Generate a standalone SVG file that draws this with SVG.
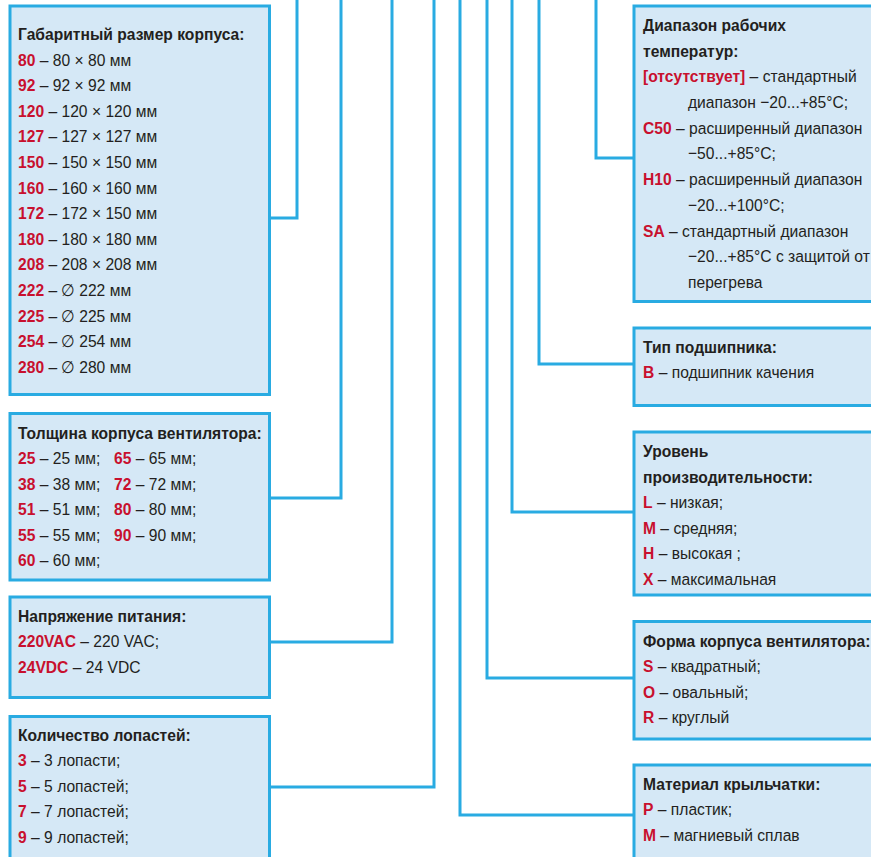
<svg xmlns="http://www.w3.org/2000/svg" width="871" height="857" viewBox="0 0 871 857">
<style>
.box{fill:#d5e8f6;stroke:#29abe2;stroke-width:3}
.cn{fill:none;stroke:#29abe2;stroke-width:3}
text{font-family:"Liberation Sans",Arial,sans-serif;font-size:17px;fill:#231f20}
.h{font-weight:bold}
.r{font-weight:bold;fill:#c8102e}
</style>
<rect width="871" height="857" fill="#fff"/>
<g id="connectors">
<polyline class="cn" points="269.5,218 297,218 297,-2"/>
<polyline class="cn" points="269.5,498 341,498 341,-2"/>
<polyline class="cn" points="269.5,642 392,642 392,-2"/>
<polyline class="cn" points="269.5,787 434,787 434,-2"/>
<polyline class="cn" points="634,815 460,815 460,-2"/>
<polyline class="cn" points="634,678 487,678 487,-2"/>
<polyline class="cn" points="634,512 512,512 512,-2"/>
<polyline class="cn" points="634,364 539,364 539,-2"/>
<polyline class="cn" points="634,158 596,158 596,-2"/>
</g>
<g id="size">
<rect class="box" x="10" y="6" width="259.5" height="388.5"/>
<g transform="matrix(0.92,0,0,1,18,0)">
<text x="0" y="40" class="h">Габаритный размер корпуса:</text>
<text x="0" y="65.6"><tspan class="r">80</tspan> – 80 × 80 мм</text>
<text x="0" y="91.2"><tspan class="r">92</tspan> – 92 × 92 мм</text>
<text x="0" y="116.8"><tspan class="r">120</tspan> – 120 × 120 мм</text>
<text x="0" y="142.4"><tspan class="r">127</tspan> – 127 × 127 мм</text>
<text x="0" y="168"><tspan class="r">150</tspan> – 150 × 150 мм</text>
<text x="0" y="193.6"><tspan class="r">160</tspan> – 160 × 160 мм</text>
<text x="0" y="219.2"><tspan class="r">172</tspan> – 172 × 150 мм</text>
<text x="0" y="244.8"><tspan class="r">180</tspan> – 180 × 180 мм</text>
<text x="0" y="270.4"><tspan class="r">208</tspan> – 208 × 208 мм</text>
<text x="0" y="296"><tspan class="r">222</tspan> – ∅ 222 мм</text>
<text x="0" y="321.6"><tspan class="r">225</tspan> – ∅ 225 мм</text>
<text x="0" y="347.2"><tspan class="r">254</tspan> – ∅ 254 мм</text>
<text x="0" y="372.8"><tspan class="r">280</tspan> – ∅ 280 мм</text>
</g>
</g>
<g id="thickness">
<rect class="box" x="10" y="413.5" width="259.5" height="166.5"/>
<g transform="matrix(0.92,0,0,1,18,0)">
<text x="0" y="439" class="h">Толщина корпуса вентилятора:</text>
<text x="0" y="464.5"><tspan class="r">25</tspan> – 25 мм;</text>
<text x="0" y="490"><tspan class="r">38</tspan> – 38 мм;</text>
<text x="0" y="515.5"><tspan class="r">51</tspan> – 51 мм;</text>
<text x="0" y="541"><tspan class="r">55</tspan> – 55 мм;</text>
<text x="0" y="566.5"><tspan class="r">60</tspan> – 60 мм;</text>
<text x="104.3" y="464.5"><tspan class="r">65</tspan> – 65 мм;</text>
<text x="104.3" y="490"><tspan class="r">72</tspan> – 72 мм;</text>
<text x="104.3" y="515.5"><tspan class="r">80</tspan> – 80 мм;</text>
<text x="104.3" y="541"><tspan class="r">90</tspan> – 90 мм;</text>
</g>
</g>
<g id="voltage">
<rect class="box" x="10" y="597" width="259.5" height="100.5"/>
<g transform="matrix(0.92,0,0,1,18,0)">
<text x="0" y="622" class="h">Напряжение питания:</text>
<text x="0" y="647.5"><tspan class="r">220VAC</tspan> – 220 VAC;</text>
<text x="0" y="673"><tspan class="r">24VDC</tspan> – 24 VDC</text>
</g>
</g>
<g id="blades">
<rect class="box" x="10" y="716.5" width="259.5" height="160"/>
<g transform="matrix(0.92,0,0,1,18,0)">
<text x="0" y="741" class="h">Количество лопастей:</text>
<text x="0" y="766.5"><tspan class="r">3</tspan> – 3 лопасти;</text>
<text x="0" y="792"><tspan class="r">5</tspan> – 5 лопастей;</text>
<text x="0" y="817.5"><tspan class="r">7</tspan> – 7 лопастей;</text>
<text x="0" y="843"><tspan class="r">9</tspan> – 9 лопастей;</text>
</g>
</g>
<g id="temperature">
<rect class="box" x="634" y="6" width="260" height="295.5"/>
<g transform="matrix(0.92,0,0,1,643,0)">
<text x="0" y="31" class="h">Диапазон рабочих</text>
<text x="0" y="56.7" class="h">температур:</text>
<text x="0" y="82.4"><tspan class="r">[отсутствует]</tspan> – стандартный</text>
<text x="48.9" y="108.1">диапазон −20...+85°C;</text>
<text x="0" y="133.8"><tspan class="r">C50</tspan> – расширенный диапазон</text>
<text x="48.9" y="159.5">−50...+85°C;</text>
<text x="0" y="185.2"><tspan class="r">H10</tspan> – расширенный диапазон</text>
<text x="48.9" y="210.9">−20...+100°C;</text>
<text x="0" y="236.6"><tspan class="r">SA</tspan> – <tspan x="42.4">стандартный диапазон</tspan></text>
<text x="48.9" y="262.3">−20...+85°C с защитой от</text>
<text x="48.9" y="288">перегрева</text>
</g>
</g>
<g id="bearing">
<rect class="box" x="634" y="328" width="260" height="77.5"/>
<g transform="matrix(0.92,0,0,1,643,0)">
<text x="0" y="353" class="h">Тип подшипника:</text>
<text x="0" y="378.5"><tspan class="r">B</tspan> – подшипник качения</text>
</g>
</g>
<g id="performance">
<rect class="box" x="634" y="432" width="260" height="163"/>
<g transform="matrix(0.92,0,0,1,643,0)">
<text x="0" y="457.5" class="h">Уровень</text>
<text x="0" y="483" class="h">производительности:</text>
<text x="0" y="508.5"><tspan class="r">L</tspan> – низкая;</text>
<text x="0" y="534"><tspan class="r">M</tspan> – средняя;</text>
<text x="0" y="559.5"><tspan class="r">H</tspan> – высокая ;</text>
<text x="0" y="585"><tspan class="r">X</tspan> – максимальная</text>
</g>
</g>
<g id="shape">
<rect class="box" x="634" y="621.5" width="260" height="117.5"/>
<g transform="matrix(0.92,0,0,1,643,0)">
<text x="0" y="647" class="h">Форма корпуса вентилятора:</text>
<text x="0" y="672.5"><tspan class="r">S</tspan> – квадратный;</text>
<text x="0" y="698"><tspan class="r">O</tspan> – овальный;</text>
<text x="0" y="723.5"><tspan class="r">R</tspan> – круглый</text>
</g>
</g>
<g id="material">
<rect class="box" x="634" y="765" width="260" height="110"/>
<g transform="matrix(0.92,0,0,1,643,0)">
<text x="0" y="790" class="h">Материал крыльчатки:</text>
<text x="0" y="815.5"><tspan class="r">P</tspan> – пластик;</text>
<text x="0" y="841"><tspan class="r">M</tspan> – магниевый сплав</text>
</g>
</g>
</svg>
